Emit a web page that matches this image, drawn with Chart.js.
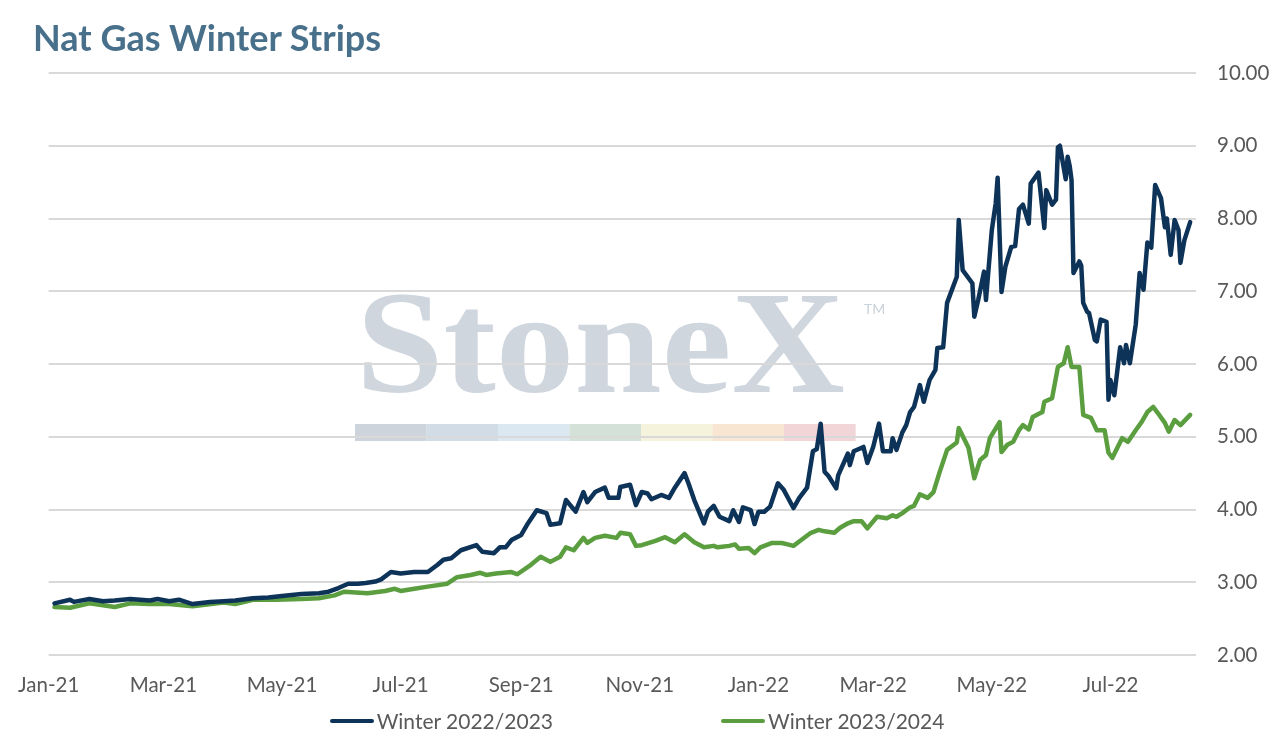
<!DOCTYPE html>
<html>
<head>
<meta charset="utf-8">
<script src="https://cdn.jsdelivr.net/npm/chart.js@4/dist/chart.umd.min.js"></script>
<style>
  body { margin: 0; background: #fff; }
  #wrap { position: relative; width: 1274px; height: 743px; }
  #title {
    position: absolute; left: 33px; top: 15px; line-height: 1;
    font: bold 36px Lato, sans-serif; color: #48708B;
  }
  #legend {
    position: absolute; left: 0; top: 708px; width: 1274px;
    display: flex; justify-content: center; gap: 168px;
    font: 21px Lato, sans-serif; color: #595959;
  }
  #legend .item { display: flex; align-items: center; }
  #legend .swatch { width: 44px; height: 4px; border-radius: 2px; margin-right: 3px; }
</style>
</head>
<body>
<div id="wrap">
  <canvas id="chart"></canvas>
  <div id="title">Nat Gas Winter Strips</div>
  <div id="legend"></div>
</div>
<script>
// x axis labels (every two months)
const tickDates = ['2021-01-01', '2021-03-01', '2021-05-01', '2021-07-01', '2021-09-01',
  '2021-11-01', '2022-01-01', '2022-03-01', '2022-05-01', '2022-07-01'];
const tickLabels = ['Jan-21', 'Mar-21', 'May-21', 'Jul-21', 'Sep-21',
  'Nov-21', 'Jan-22', 'Mar-22', 'May-22', 'Jul-22'];

// Winter 2022/2023 strip ($/MMBtu)
const winter2223Dates = [
  '2021-01-04', '2021-01-12', '2021-01-14', '2021-01-22', '2021-01-29', '2021-02-04', '2021-02-12', '2021-02-22',
  '2021-02-26', '2021-03-04', '2021-03-09', '2021-03-16', '2021-03-25', '2021-04-01', '2021-04-07', '2021-04-16',
  '2021-04-24', '2021-05-01', '2021-05-11', '2021-05-20', '2021-05-25', '2021-05-30', '2021-06-04', '2021-06-09',
  '2021-06-13', '2021-06-18', '2021-06-21', '2021-06-26', '2021-07-01', '2021-07-08', '2021-07-15', '2021-07-20',
  '2021-07-23', '2021-07-27', '2021-08-01', '2021-08-09', '2021-08-12', '2021-08-18', '2021-08-21', '2021-08-24',
  '2021-08-27', '2021-09-01', '2021-09-04', '2021-09-09', '2021-09-14', '2021-09-16', '2021-09-21', '2021-09-24',
  '2021-09-29', '2021-10-03', '2021-10-05', '2021-10-09', '2021-10-14', '2021-10-16', '2021-10-21', '2021-10-22',
  '2021-10-27', '2021-10-30', '2021-11-02', '2021-11-05', '2021-11-07', '2021-11-12', '2021-11-16', '2021-11-19',
  '2021-11-24', '2021-11-26', '2021-11-29', '2021-12-04', '2021-12-06', '2021-12-09', '2021-12-12', '2021-12-17',
  '2021-12-19', '2021-12-22', '2021-12-24', '2021-12-28', '2021-12-30', '2022-01-01', '2022-01-04', '2022-01-07',
  '2022-01-11', '2022-01-14', '2022-01-19', '2022-01-22', '2022-01-26', '2022-01-29', '2022-01-31', '2022-02-02',
  '2022-02-04', '2022-02-06', '2022-02-10', '2022-02-11', '2022-02-16', '2022-02-17', '2022-02-19', '2022-02-24',
  '2022-02-26', '2022-03-01', '2022-03-04', '2022-03-06', '2022-03-10', '2022-03-11', '2022-03-13', '2022-03-16',
  '2022-03-18', '2022-03-20', '2022-03-22', '2022-03-25', '2022-03-27', '2022-03-30', '2022-04-02', '2022-04-03',
  '2022-04-06', '2022-04-07', '2022-04-08', '2022-04-13', '2022-04-14', '2022-04-16', '2022-04-21', '2022-04-22',
  '2022-04-24', '2022-04-27', '2022-04-28', '2022-05-01', '2022-05-03', '2022-05-04', '2022-05-06', '2022-05-08',
  '2022-05-11', '2022-05-13', '2022-05-15', '2022-05-17', '2022-05-20', '2022-05-21', '2022-05-25', '2022-05-28',
  '2022-05-29', '2022-06-01', '2022-06-03', '2022-06-04', '2022-06-05', '2022-06-08', '2022-06-09', '2022-06-10',
  '2022-06-11', '2022-06-12', '2022-06-15', '2022-06-16', '2022-06-17', '2022-06-19', '2022-06-20', '2022-06-23',
  '2022-06-24', '2022-06-26', '2022-06-29', '2022-06-30', '2022-07-01', '2022-07-03', '2022-07-06', '2022-07-08',
  '2022-07-09', '2022-07-11', '2022-07-14', '2022-07-16', '2022-07-18', '2022-07-20', '2022-07-22', '2022-07-24',
  '2022-07-27', '2022-07-29', '2022-07-30', '2022-08-01', '2022-08-03', '2022-08-05', '2022-08-06', '2022-08-08',
  '2022-08-11'
];
const winter2223Values = [
  2.71, 2.76, 2.73, 2.77, 2.74, 2.75, 2.77, 2.75,
  2.77, 2.74, 2.76, 2.70, 2.73, 2.74, 2.75, 2.78,
  2.79, 2.81, 2.84, 2.85, 2.87, 2.92, 2.98, 2.98,
  2.99, 3.01, 3.04, 3.14, 3.12, 3.14, 3.14, 3.24,
  3.31, 3.33, 3.44, 3.51, 3.42, 3.40, 3.48, 3.48,
  3.58, 3.65, 3.79, 3.99, 3.95, 3.79, 3.81, 4.13,
  3.97, 4.24, 4.10, 4.24, 4.30, 4.16, 4.16, 4.31,
  4.34, 4.06, 4.24, 4.22, 4.14, 4.20, 4.16, 4.30,
  4.50, 4.36, 4.13, 3.81, 3.97, 4.05, 3.90, 3.84,
  3.99, 3.83, 4.03, 3.99, 3.80, 3.97, 3.97, 4.04,
  4.36, 4.27, 4.02, 4.16, 4.30, 4.80, 4.83, 5.18,
  4.52, 4.46, 4.29, 4.47, 4.77, 4.61, 4.80, 4.86,
  4.64, 4.86, 5.18, 4.80, 4.80, 4.98, 4.82, 5.06,
  5.16, 5.34, 5.41, 5.71, 5.48, 5.78, 5.92, 6.22,
  6.23, 6.54, 6.84, 7.20, 7.98, 7.29, 7.11, 6.65,
  6.88, 7.27, 6.88, 7.84, 8.21, 8.56, 6.99, 7.34,
  7.61, 7.62, 8.13, 8.19, 7.93, 8.48, 8.63, 7.87,
  8.39, 8.19, 8.26, 8.98, 9.00, 8.54, 8.85, 8.73,
  8.53, 7.25, 7.41, 7.35, 6.84, 6.72, 6.70, 6.33,
  6.31, 6.61, 6.58, 5.51, 5.78, 5.57, 6.23, 6.01,
  6.26, 6.01, 6.54, 7.25, 7.02, 7.67, 7.60, 8.46,
  8.28, 7.88, 8.00, 7.50, 7.98, 7.84, 7.39, 7.70,
  7.95
];

// Winter 2023/2024 strip ($/MMBtu)
const winter2324Dates = [
  '2021-01-04', '2021-01-12', '2021-01-22', '2021-02-04', '2021-02-12', '2021-02-22', '2021-03-04', '2021-03-16',
  '2021-04-01', '2021-04-07', '2021-04-16', '2021-04-28', '2021-05-11', '2021-05-20', '2021-05-28', '2021-06-02',
  '2021-06-14', '2021-06-23', '2021-06-28', '2021-07-01', '2021-07-08', '2021-07-15', '2021-07-25', '2021-07-30',
  '2021-08-06', '2021-08-11', '2021-08-14', '2021-08-19', '2021-08-27', '2021-08-30', '2021-09-06', '2021-09-11',
  '2021-09-16', '2021-09-21', '2021-09-24', '2021-09-28', '2021-10-03', '2021-10-05', '2021-10-09', '2021-10-14',
  '2021-10-20', '2021-10-22', '2021-10-27', '2021-10-30', '2021-11-02', '2021-11-09', '2021-11-14', '2021-11-19',
  '2021-11-24', '2021-11-29', '2021-12-04', '2021-12-09', '2021-12-11', '2021-12-17', '2021-12-20', '2021-12-22',
  '2021-12-27', '2021-12-30', '2022-01-02', '2022-01-08', '2022-01-13', '2022-01-16', '2022-01-19', '2022-01-23',
  '2022-01-28', '2022-02-01', '2022-02-04', '2022-02-09', '2022-02-12', '2022-02-16', '2022-02-19', '2022-02-23',
  '2022-02-26', '2022-03-03', '2022-03-08', '2022-03-11', '2022-03-13', '2022-03-16', '2022-03-20', '2022-03-22',
  '2022-03-25', '2022-03-29', '2022-04-01', '2022-04-04', '2022-04-08', '2022-04-13', '2022-04-14', '2022-04-19',
  '2022-04-22', '2022-04-25', '2022-04-28', '2022-04-30', '2022-05-05', '2022-05-06', '2022-05-09', '2022-05-12',
  '2022-05-15', '2022-05-17', '2022-05-20', '2022-05-22', '2022-05-27', '2022-05-28', '2022-06-01', '2022-06-04',
  '2022-06-07', '2022-06-09', '2022-06-11', '2022-06-15', '2022-06-17', '2022-06-21', '2022-06-24', '2022-06-28',
  '2022-06-30', '2022-07-02', '2022-07-07', '2022-07-10', '2022-07-14', '2022-07-17', '2022-07-20', '2022-07-23',
  '2022-07-25', '2022-07-29', '2022-07-31', '2022-08-03', '2022-08-06', '2022-08-11'
];
const winter2324Values = [
  2.66, 2.65, 2.71, 2.66, 2.71, 2.70, 2.70, 2.67,
  2.72, 2.70, 2.76, 2.76, 2.77, 2.78, 2.82, 2.87,
  2.85, 2.88, 2.91, 2.88, 2.91, 2.94, 2.98, 3.07,
  3.10, 3.13, 3.10, 3.12, 3.14, 3.11, 3.24, 3.35,
  3.28, 3.35, 3.48, 3.44, 3.61, 3.54, 3.61, 3.64,
  3.61, 3.68, 3.66, 3.50, 3.51, 3.57, 3.62, 3.55,
  3.66, 3.55, 3.48, 3.50, 3.48, 3.50, 3.52, 3.46,
  3.47, 3.40, 3.48, 3.54, 3.54, 3.52, 3.50, 3.58,
  3.68, 3.72, 3.70, 3.68, 3.75, 3.81, 3.84, 3.84,
  3.74, 3.90, 3.88, 3.92, 3.90, 3.95, 4.03, 4.05,
  4.21, 4.16, 4.24, 4.50, 4.82, 4.92, 5.12, 4.85,
  4.43, 4.68, 4.75, 4.98, 5.20, 4.79, 4.89, 4.93,
  5.09, 5.16, 5.10, 5.27, 5.34, 5.48, 5.53, 5.96,
  6.01, 6.23, 5.96, 5.96, 5.30, 5.26, 5.09, 5.09,
  4.78, 4.71, 4.98, 4.93, 5.09, 5.20, 5.34, 5.41,
  5.34, 5.19, 5.07, 5.23, 5.16, 5.30
];

const seriesNames = ['Winter 2022/2023', 'Winter 2023/2024'];
const seriesColors = ['#0E3358', '#5B9E3F'];

// days since 1 Jan 2021, used as the linear x value
const DAY0 = Date.UTC(2021, 0, 1);
const dayOf = s => (Date.parse(s) - DAY0) / 86400000;
const toPoints = (dates, values) => dates.map((d, i) => ({ x: dayOf(d), y: values[i] }));
const tickDays = tickDates.map(dayOf);

// StoneX watermark, drawn under the grid
const watermarkPlugin = {
  id: 'watermark',
  beforeDraw(chart) {
    const ctx = chart.ctx;
    ctx.save();
    ctx.font = 'bold 146px "Liberation Serif", serif';
    ctx.fillStyle = '#CFD6DE';
    const w = ctx.measureText('StoneX').width;
    ctx.translate(356, 392);
    ctx.scale(489 / w, 1);
    ctx.fillText('StoneX', 0, 0);
    ctx.restore();

    ctx.save();
    ctx.font = '14px Lato, sans-serif';
    ctx.fillStyle = '#C9D1D9';
    ctx.fillText('TM', 864, 314);
    const barColors = ['#CDD4DC', '#D2DCE6', '#DCE8F1', '#D4E1D8', '#F6F3DC', '#F8E6D2', '#F2D5D6'];
    barColors.forEach((c, i) => {
      ctx.fillStyle = c;
      ctx.fillRect(355 + i * 71.5, 424, 71.6, 17);
    });
    ctx.restore();
  }
};

const datasets = [
  toPoints(winter2223Dates, winter2223Values),
  toPoints(winter2324Dates, winter2324Values)
].map((data, i) => ({
  label: seriesNames[i],
  data,
  borderColor: seriesColors[i],
  backgroundColor: seriesColors[i],
  borderWidth: 4.5,
  pointRadius: 0,
  tension: 0,
  borderJoinStyle: 'round',
  borderCapStyle: 'round'
}));

const tickFont = { family: 'Lato, sans-serif', size: 20.5 };

new Chart(document.getElementById('chart'), {
  type: 'line',
  plugins: [watermarkPlugin],
  data: { datasets },
  options: {
    responsive: true,
    maintainAspectRatio: false,
    animation: false,
    layout: { padding: { left: 41, top: 73, right: 0, bottom: 43 } },
    plugins: {
      legend: { display: false },
      tooltip: { enabled: false }
    },
    scales: {
      x: {
        type: 'linear',
        min: 0,
        max: 590,
        grid: { display: false, drawTicks: false },
        border: { display: false },
        afterBuildTicks: axis => { axis.ticks = tickDays.map(v => ({ value: v })); },
        afterFit: axis => { axis.height = 45; },
        ticks: {
          autoSkip: false,
          maxRotation: 0,
          padding: 18,
          color: '#595959',
          font: tickFont,
          callback: v => tickLabels[tickDays.indexOf(v)]
        }
      },
      y: {
        position: 'right',
        min: 2,
        max: 10,
        grid: { color: '#D9D9D9', lineWidth: 2, drawTicks: false },
        border: { display: false },
        afterFit: axis => { axis.width = 78; },
        ticks: {
          stepSize: 1,
          padding: 21,
          color: '#595959',
          font: tickFont,
          callback: v => v.toFixed(2)
        }
      }
    }
  }
});

// legend below the axis
const legend = document.getElementById('legend');
seriesNames.forEach((name, i) => {
  const item = document.createElement('div');
  item.className = 'item';
  const sw = document.createElement('span');
  sw.className = 'swatch';
  sw.style.background = seriesColors[i];
  item.appendChild(sw);
  item.appendChild(document.createTextNode(name));
  legend.appendChild(item);
});
</script>
</body>
</html>
